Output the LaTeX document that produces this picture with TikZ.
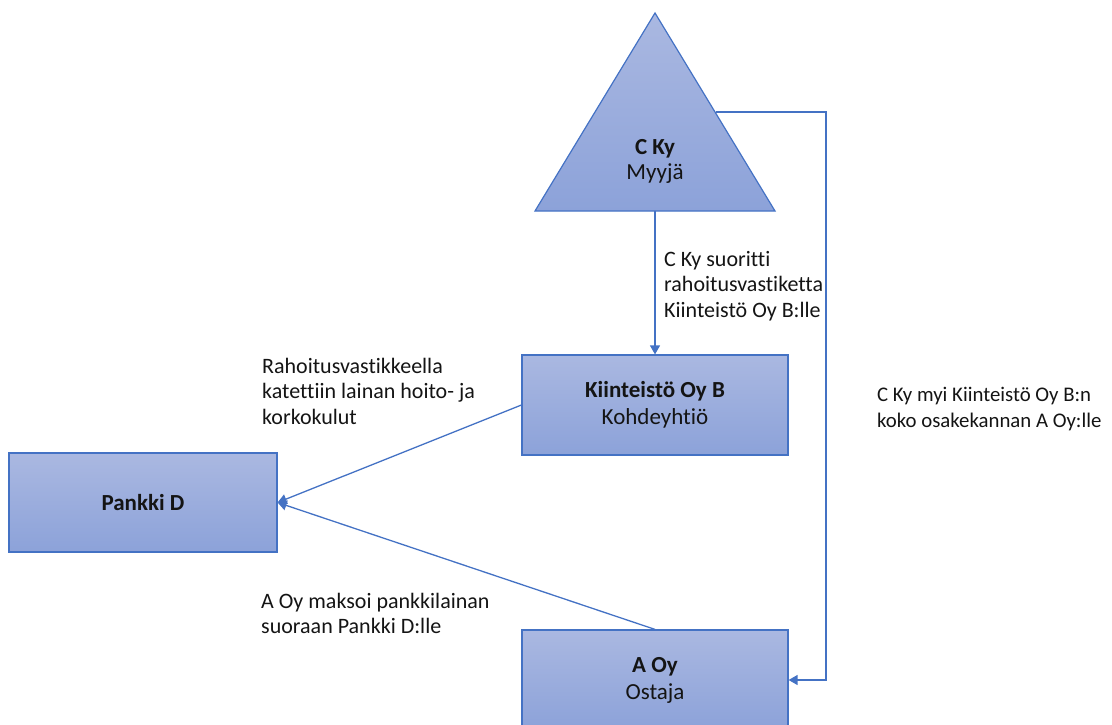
\documentclass[tikz,border=0pt]{standalone}
\usepackage{fontspec}
\setmainfont{Carlito}[Ligatures={NoCommon}]
\usetikzlibrary{arrows.meta}
\definecolor{edge}{HTML}{4472C4}
\definecolor{filltop}{RGB}{170,184,225}
\definecolor{fillbot}{RGB}{140,162,217}
\definecolor{ink}{RGB}{20,20,20}
\begin{document}
\begin{tikzpicture}[x=1pt,y=-1pt,
  font=\fontsize{23}{27}\selectfont, text=ink,
  entity/.style={draw=edge, line width=1.2pt, top color=filltop, bottom color=fillbot,
    minimum width=266pt, minimum height=100pt, inner sep=0pt, align=center},
  flow/.style={draw=edge, line width=1.3pt, -{Triangle[length=9pt,width=10pt]}},
  note/.style={align=left, anchor=north west, inner sep=0pt,
    font=\fontsize{22}{25.5}\selectfont}]
\useasboundingbox (0,0) rectangle (1112,725);
\clip (0,0) rectangle (1112,725);

% seller: triangle
\path[draw=edge, line width=1.2pt, top color=filltop, bottom color=fillbot]
  (655,13) -- (775,211) -- (535,211) -- cycle;
\node[align=center, inner sep=0pt, font=\fontsize{23}{25}\selectfont] (cky) at (655,161) {\textbf{C Ky}\\Myyjä};
\coordinate (ckyB) at (655,211);
\coordinate (ckyR) at (716,112);

% companies and bank
\node[entity] (kb) at (655,405) {\textbf{Kiinteistö Oy B}\\Kohdeyhtiö};
\node[entity, minimum width=268pt, minimum height=99pt] (bank) at (143,502.5) {\textbf{Pankki D}};
\node[entity] (aoy) at (655,680) {\textbf{A Oy}\\Ostaja};

% flows
\draw[flow] (ckyB) -- (kb.north);
\draw[flow] (kb.west) -- (bank.east);
\draw[flow] (aoy.north) -- (bank.east);
\draw[flow] (ckyR) -- (826,112) |- (aoy.east);

% explanations
\node[note] (n1) at (664,251) {C Ky suoritti\\rahoitusvastiketta\\Kiinteistö Oy B:lle};
\node[note] (n2) at (262,358) {Rahoitusvastikkeella\\katettiin lainan hoito- ja\\korkokulut};
\node[note, font=\fontsize{20.8}{25.5}\selectfont] (n3) at (877,387) {C Ky myi Kiinteistö Oy B:n\\koko osakekannan A Oy:lle};
\node[note] (n4) at (261,593) {A Oy maksoi pankkilainan\\suoraan Pankki D:lle};
\end{tikzpicture}
\end{document}
